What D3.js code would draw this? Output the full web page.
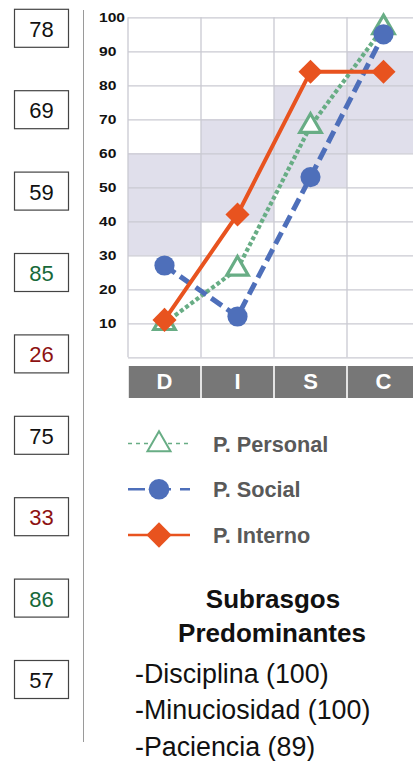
<!DOCTYPE html>
<html>
<head>
<meta charset="utf-8">
<script src="https://cdn.jsdelivr.net/npm/d3@7"></script>
<style>
  body { margin: 0; background: #fff; }
  svg { display: block; font-family: "Liberation Sans", Arial, sans-serif; }
</style>
</head>
<body>
<div class="container"></div>
<script>
// values
var categories = ["D", "I", "S", "C"];
var personal = [10, 26, 68, 97];
var social   = [27, 12, 53, 95];
var interno  = [11, 42, 84, 84];
var bandLow  = [30, 40, 50, 60];
var bandHigh = [60, 70, 80, 90];
var yTicks   = [10, 20, 30, 40, 50, 60, 70, 80, 90, 100];
var boxValues = [78, 69, 59, 85, 26, 75, 33, 86, 57];
var boxKinds  = ["n", "n", "n", "g", "r", "n", "r", "g", "n"];
var seriesNames = ["P. Personal", "P. Social", "P. Interno"];
var traits = ["-Disciplina (100)", "-Minuciosidad (100)", "-Paciencia (89)"];

var width = 413, height = 761;
var plot = {left: 128, top: 17.3, right: 420, bottom: 357.3};

var svg = d3.select("div.container").append("svg")
    .attr("width", width)
    .attr("height", height);

// ranges
var x_scale = d3.scaleBand().domain(categories).range([plot.left, plot.right]);
var y_scale = d3.scaleLinear().domain([0, 100]).range([plot.bottom, plot.top]);

var kindColor = {n: "#111", g: "#17693a", r: "#8e1212"};

// left column of score boxes
var box_y = d3.scaleLinear().domain([0, 8]).range([9.3, 660.5]);
var boxes = svg.append("g");
boxValues.forEach(function (v, i) {
  boxes.append("rect")
      .attr("x", 14.5).attr("y", box_y(i))
      .attr("width", 54).attr("height", 38)
      .attr("fill", "#fff")
      .attr("stroke", "#444")
      .attr("stroke-width", 1.2);
  boxes.append("text")
      .attr("x", 41.5).attr("y", box_y(i) + 27.5)
      .attr("text-anchor", "middle")
      .attr("font-size", 22)
      .attr("fill", kindColor[boxKinds[i]])
      .text(v);
});

svg.append("line")
    .attr("x1", 83.5).attr("x2", 83.5)
    .attr("y1", 10).attr("y2", 742)
    .attr("stroke", "#9a9a9a").attr("stroke-width", 1);

// shaded bands per column
svg.append("g").selectAll("rect")
    .data(categories)
  .enter().append("rect")
    .attr("x", function(d) { return x_scale(d); })
    .attr("y", function(d, i) { return y_scale(bandHigh[i]); })
    .attr("width", x_scale.bandwidth())
    .attr("height", function(d, i) { return y_scale(bandLow[i]) - y_scale(bandHigh[i]); })
    .attr("fill", "#e0dfeb");

// horizontal grid
var grid = svg.append("g")
    .attr("transform", "translate(" + plot.left + ",0)")
    .call(d3.axisLeft(y_scale).tickValues([0].concat(yTicks))
      .tickSize(-(plot.right - plot.left)).tickFormat(""));
grid.select(".domain").remove();
grid.selectAll("line").attr("stroke", "#cacad2").attr("stroke-width", 1.3);

// vertical grid
svg.append("g").selectAll("line")
    .data(categories)
  .enter().append("line")
    .attr("x1", function(d) { return x_scale(d); })
    .attr("x2", function(d) { return x_scale(d); })
    .attr("y1", plot.top).attr("y2", plot.bottom)
    .attr("stroke", "#cacad2").attr("stroke-width", 1.3);

// y tick labels (stretched like the picture)
var yAxis = svg.append("g")
    .attr("transform", "translate(99,0)")
    .call(d3.axisLeft(y_scale).tickValues(yTicks).tickSize(0).tickPadding(0));
yAxis.select(".domain").remove();
yAxis.selectAll("text")
    .attr("x", 0)
    .attr("dy", "0.36em")
    .attr("text-anchor", "start")
    .attr("transform", "scale(1.25,1)")
    .attr("font-family", "'Liberation Sans', Arial, sans-serif")
    .attr("font-size", 12.5)
    .attr("font-weight", "bold")
    .attr("fill", "#111");

// DISC bar
var bar = svg.append("g");
categories.forEach(function (c) {
  bar.append("rect")
      .attr("x", x_scale(c) + 0.8).attr("y", 366)
      .attr("width", x_scale.bandwidth() - 1.6).attr("height", 32)
      .attr("fill", "#777777");
  bar.append("text")
      .attr("x", x_scale(c) + x_scale.bandwidth() / 2)
      .attr("y", 388.5)
      .attr("text-anchor", "middle")
      .attr("font-size", 22)
      .attr("font-weight", "bold")
      .attr("fill", "#fff")
      .text(c);
});

// series
var series = [
  {name: seriesNames[0], values: personal, color: "#68ad85", width: 4.2, dash: "4,2.5",
   symbol: d3.symbolTriangle, size: 200, fill: "#fff", sw: 3.2,
   legendWidth: 1.5, legendDash: "4,4"},
  {name: seriesNames[1], values: social, color: "#4e6fba", width: 5, dash: "13,6",
   symbol: d3.symbolCircle, size: 320, fill: "#4e6fba", sw: 0,
   legendWidth: 2.5, legendDash: "17,9"},
  {name: seriesNames[2], values: interno, color: "#e8531f", width: 4, dash: null,
   symbol: d3.symbolSquare, size: 290, fill: "#e8531f", sw: 0, rotate: 45,
   legendWidth: 2.5, legendDash: null}
];

var valueline = d3.line()
    .x(function(d, i) { return x_scale(categories[i]) + x_scale.bandwidth() / 2; })
    .y(function(d) { return y_scale(d); });

series.forEach(function (s) {
  svg.append("path")
      .datum(s.values)
      .attr("fill", "none")
      .attr("stroke", s.color)
      .attr("stroke-width", s.width)
      .attr("stroke-dasharray", s.dash)
      .attr("d", valueline);
});

var plot_marker = function (g, s, cx, cy, scale) {
  g.append("path")
      .attr("d", d3.symbol().type(s.symbol).size(s.size * scale)())
      .attr("transform", "translate(" + cx + "," + cy + ")" + (s.rotate ? " rotate(" + s.rotate + ")" : ""))
      .attr("fill", s.fill)
      .attr("stroke", s.sw ? s.color : "none")
      .attr("stroke-width", s.sw);
};

series.forEach(function (s) {
  s.values.forEach(function (v, i) {
    plot_marker(svg, s, x_scale(categories[i]) + x_scale.bandwidth() / 2, y_scale(v), 1);
  });
});

// legend
var leg_y = d3.scaleLinear().domain([0, 2]).range([443.5, 535]);
series.forEach(function (s, i) {
  var g = svg.append("g");
  g.append("line")
      .attr("x1", 128).attr("x2", 190)
      .attr("y1", leg_y(i)).attr("y2", leg_y(i))
      .attr("stroke", s.color)
      .attr("stroke-width", s.legendWidth)
      .attr("stroke-dasharray", s.legendDash);
  if (i == 0) {
    plot_marker(g, {symbol: s.symbol, size: 230, fill: "#fff", sw: 2, color: s.color}, 159, leg_y(i) + 1, 1);
  } else {
    plot_marker(g, s, 159, leg_y(i), i == 2 ? 1.1 : 1.05);
  }
  g.append("text")
      .attr("x", 213).attr("y", leg_y(i) + 8)
      .attr("font-size", 21.7)
      .attr("font-weight", "bold")
      .attr("fill", "#595959")
      .text(s.name);
});

// predominant subtraits
svg.append("text")
    .attr("x", 273).attr("y", 608)
    .attr("text-anchor", "middle")
    .attr("font-size", 26).attr("font-weight", "bold").attr("fill", "#111")
    .text("Subrasgos");
svg.append("text")
    .attr("x", 272).attr("y", 641.5)
    .attr("text-anchor", "middle")
    .attr("font-size", 26).attr("font-weight", "bold").attr("fill", "#111")
    .text("Predominantes");

svg.append("g").selectAll("text")
    .data(traits)
  .enter().append("text")
    .attr("x", 135)
    .attr("y", function(d, i) { return 682.7 + i * 36.7; })
    .attr("font-size", 26.8)
    .attr("fill", "#111")
    .text(function(d) { return d; });
</script>
</body>
</html>
